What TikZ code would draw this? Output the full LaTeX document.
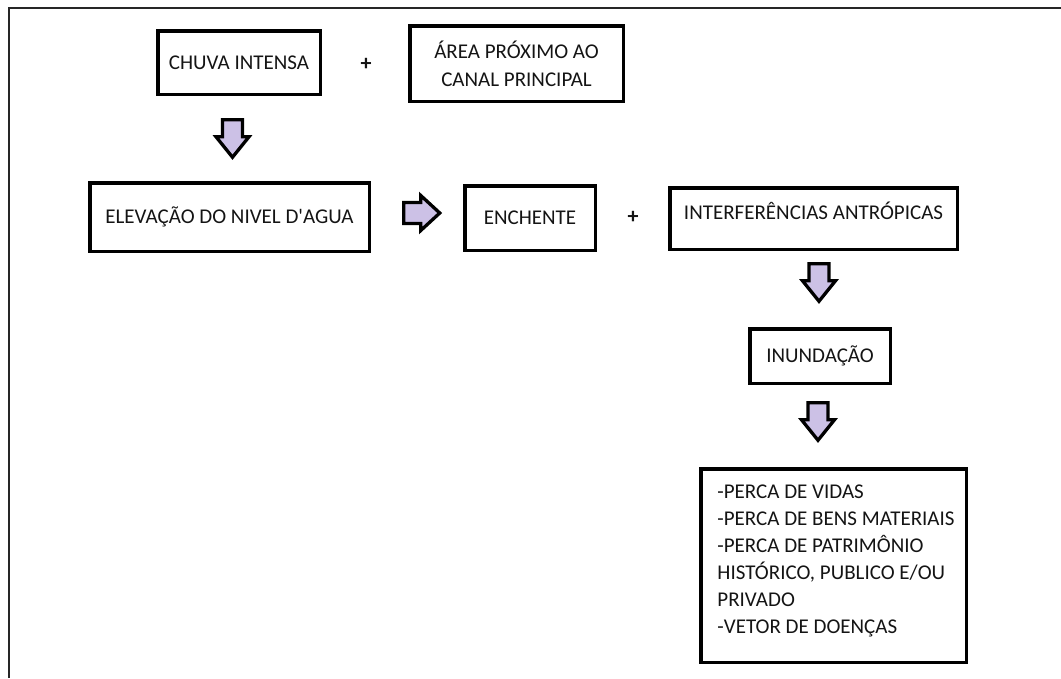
\documentclass[tikz,border=0pt]{standalone}
\usepackage{fontspec}
\setmainfont{Carlito}
\definecolor{arrfill}{RGB}{204,193,230}
\definecolor{txt}{RGB}{20,20,20}
\tikzset{
  box/.style={draw, line width=3.5pt, rectangle, inner sep=0pt, text=txt,
    font=\fontsize{21}{28}\selectfont},
  capstext/.style={text height=13pt, text depth=0pt},
  plus/.style={font=\fontsize{22}{22}\selectfont\bfseries, text=txt, inner sep=0pt},
  barrow/.style={draw, line width=3.3pt, fill=arrfill, line join=miter, miter limit=10}
}
\begin{document}
\begin{tikzpicture}[x=1pt,y=-1pt]
\useasboundingbox (0,0) rectangle (1061,678);
% outer frame (only left and top edges visible)
\draw[line width=2.5pt, black!85] (9,678) -- (9,8) -- (1061,8);

% boxes
\node[box, capstext, minimum width=162.5pt, minimum height=63.5pt] (chuva) at (239,62.5) {CHUVA INTENSA};
\node[box, align=center, minimum width=213.5pt, minimum height=75.5pt] (area) at (516.5,63.5) {ÁREA PRÓXIMO AO\\CANAL PRINCIPAL};
\node[box, capstext, minimum width=279.5pt, minimum height=68.5pt] (elev) at (229.5,217) {ELEVAÇÃO DO NIVEL D\textquotesingle AGUA};
\node[box, capstext, minimum width=130.5pt, minimum height=64.5pt] (ench) at (530,218) {ENCHENTE};
\node[box, text height=13pt, text depth=12pt, minimum width=287.5pt, minimum height=61.5pt] (interf) at (813.5,218.5) {INTERFERÊNCIAS ANTRÓPICAS};
\node[box, capstext, minimum width=140.5pt, minimum height=54.5pt] (inund) at (820,356) {INUNDAÇÃO};
\node[box, minimum width=265.5pt, minimum height=193.5pt] (final) at (833.5,565.5) {};
\node[align=left, inner sep=0pt, text=txt, font=\fontsize{21}{27}\selectfont] (finaltxt) at (836,561)
  {-PERCA DE VIDAS\\-PERCA DE BENS MATERIAIS\\-PERCA DE PATRIMÔNIO\\HISTÓRICO, PUBLICO E/OU\\PRIVADO\\-VETOR DE DOENÇAS};

% plus signs
\node[plus] (p1) at (366,64) {+};
\node[plus] (p2) at (633,217) {+};

% block arrows
\coordinate (a1) at (232.5,119.75);
\coordinate (a2) at (403.75,213);
\coordinate (a3) at (819,263.75);
\coordinate (a4) at (818,402.75);
\draw[barrow] (a1) ++(-10,0) -- ++(20,0) -- ++(0,17) -- ++(6.5,0) -- ++(-16.5,20.5) -- ++(-16.5,-20.5) -- ++(6.5,0) -- cycle;
\draw[barrow] (a3) ++(-10,0) -- ++(20,0) -- ++(0,17) -- ++(6.5,0) -- ++(-16.5,20.5) -- ++(-16.5,-20.5) -- ++(6.5,0) -- cycle;
\draw[barrow] (a4) ++(-10,0) -- ++(20,0) -- ++(0,17) -- ++(6.5,0) -- ++(-16.5,20.5) -- ++(-16.5,-20.5) -- ++(6.5,0) -- cycle;
\draw[barrow] (a2) ++(0,-10.5) -- ++(17,0) -- ++(0,-7) -- ++(19,17.5) -- ++(-19,17.5) -- ++(0,-7) -- ++(-17,0) -- cycle;
\end{tikzpicture}
\end{document}
